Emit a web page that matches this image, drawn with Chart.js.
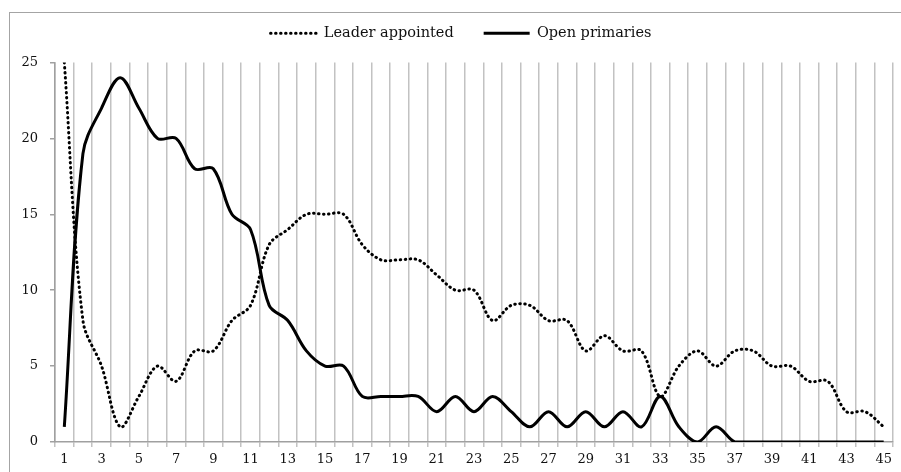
<!DOCTYPE html>
<html><head><meta charset="utf-8">
<script src="https://cdn.jsdelivr.net/npm/chart.js@4.4.1/dist/chart.umd.min.js"></script>
<style>
html,body{margin:0;padding:0;background:#fff;}
#wrap{position:relative;width:901px;height:472px;overflow:hidden;}
#frame{position:absolute;left:9px;top:12px;width:900px;height:470px;border:1.5px solid #a4a4a4;box-sizing:border-box;}
canvas{position:absolute;left:0;top:0;}
</style></head><body>
<div id="wrap"><div id="frame"></div><canvas id="c" width="901" height="472"></canvas></div>
<script>
const categories = Array.from({length:45},(_,i)=>String(i+1));
const leaderAppointed = [25, 8, 5, 1, 3, 5, 4, 6, 6, 8, 9, 13, 14, 15, 15, 15, 13, 12, 12, 12, 11, 10, 10, 8, 9, 9, 8, 8, 6, 7, 6, 6, 3, 5, 6, 5, 6, 6, 5, 5, 4, 4, 2, 2, 1];
const openPrimaries = [1, 19, 22, 24, 22, 20, 20, 18, 18, 15, 14, 9, 8, 6, 5, 5, 3, 3, 3, 3, 2, 3, 2, 3, 2, 1, 2, 1, 2, 1, 2, 1, 3, 1, 0, 1, 0, 0, 0, 0, 0, 0, 0, 0, 0];
const seriesNames = ['Leader appointed', 'Open primaries'];
const yTicks = [0, 5, 10, 15, 20, 25];

const FONT = 'DejaVu Serif';
const legendTweak = {
  id: 'legendTweak',
  afterInit(chart) {
    const lg = chart.legend;
    const fit = lg.fit;
    lg.fit = function () { fit.call(this); this.height += 12; };
    const draw = lg.draw;
    lg.draw = function () {
      const ctx = this.ctx;
      ctx.save(); ctx.translate(10, 0); draw.call(this); ctx.restore();
    };
  }
};

new Chart(document.getElementById('c'), {
  type: 'line',
  data: {
    labels: categories,
    datasets: [
      {
        label: seriesNames[0], data: leaderAppointed,
        borderColor: '#000', backgroundColor: '#000', borderWidth: 3,
        borderDash: [0.5, 4.5], borderCapStyle: 'round',
        tension: 0.35, pointRadius: 0, pointStyle: 'line', fill: false
      },
      {
        label: seriesNames[1], data: openPrimaries,
        borderColor: '#000', backgroundColor: '#000', borderWidth: 3,
        borderCapStyle: 'butt',
        tension: 0.35, pointRadius: 0, pointStyle: 'line', fill: false
      }
    ]
  },
  options: {
    responsive: false, animation: false,
    layout: { padding: { left: 9, right: 8, top: -4, bottom: 0 } },
    plugins: {
      legend: {
        position: 'top',
        labels: {
          usePointStyle: true, pointStyleWidth: 46, padding: 30,
          font: { family: FONT, size: 14.5 }, color: '#111',
          generateLabels(chart) {
            const items = Chart.defaults.plugins.legend.labels.generateLabels(chart);
            items.forEach(it => {
              const ds = chart.data.datasets[it.datasetIndex];
              it.lineDash = ds.borderDash || [];
              it.lineCap = ds.borderCapStyle;
              it.lineWidth = ds.borderWidth;
              it.strokeStyle = ds.borderColor;
            });
            return items;
          }
        }
      },
      tooltip: { enabled: false }
    },
    scales: {
      x: {
        type: 'category', offset: true,
        grid: { offset: true, color: '#c2c2c2', lineWidth: 1.5, tickLength: 5, drawOnChartArea: true },
        border: { color: '#a0a0a0', width: 1.5 },
        ticks: {
          autoSkip: false, maxRotation: 0, minRotation: 0, padding: 5,
          font: { family: FONT, size: 13 }, color: '#111',
          callback: function (val, index) { return index % 2 === 0 ? this.getLabelForValue(val) : ''; }
        },
        afterFit: s => { s.height = 30; }
      },
      y: {
        min: 0, max: 25,
        afterBuildTicks: s => { s.ticks = yTicks.map(v => ({ value: v })); },
        grid: { drawOnChartArea: false, tickLength: 5, color: '#a0a0a0', lineWidth: 1.5 },
        border: { color: '#a0a0a0', width: 1.5 },
        ticks: { padding: 12, font: { family: FONT, size: 13 }, color: '#111' },
        afterFit: s => { s.width = 46; }
      }
    }
  },
  plugins: [legendTweak]
});
</script>
</body></html>
